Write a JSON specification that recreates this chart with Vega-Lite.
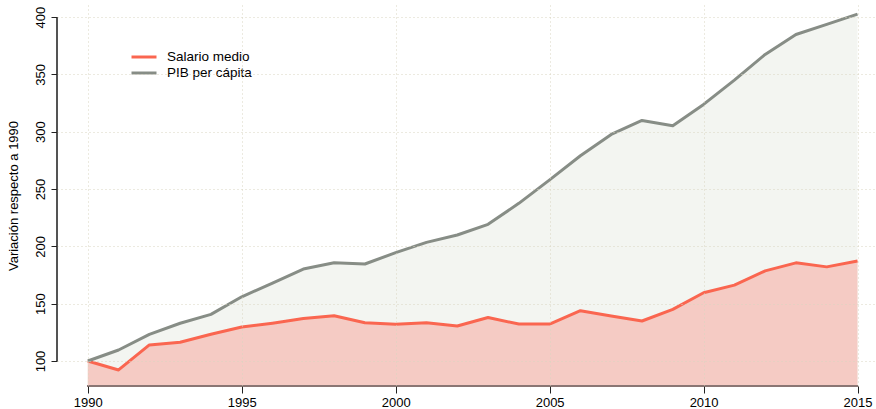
{
  "$schema": "https://vega.github.io/schema/vega-lite/v6.json",
  "width": 819,
  "height": 381,
  "autosize": "none",
  "padding": {"left": 57, "top": 5, "right": 0, "bottom": 23},
  "background": "white",
  "config": {"font": "Liberation Sans", "view": {"stroke": null}},
  "datasets": {
    "series": [
      {"year": 1990, "serie": "Salario medio", "value": 100},
      {"year": 1991, "serie": "Salario medio", "value": 92.2},
      {"year": 1992, "serie": "Salario medio", "value": 114},
      {"year": 1993, "serie": "Salario medio", "value": 116.3},
      {"year": 1994, "serie": "Salario medio", "value": 123.3},
      {"year": 1995, "serie": "Salario medio", "value": 129.6},
      {"year": 1996, "serie": "Salario medio", "value": 133},
      {"year": 1997, "serie": "Salario medio", "value": 137},
      {"year": 1998, "serie": "Salario medio", "value": 139.5},
      {"year": 1999, "serie": "Salario medio", "value": 133.4},
      {"year": 2000, "serie": "Salario medio", "value": 132},
      {"year": 2001, "serie": "Salario medio", "value": 133.4},
      {"year": 2002, "serie": "Salario medio", "value": 130.5},
      {"year": 2003, "serie": "Salario medio", "value": 138},
      {"year": 2004, "serie": "Salario medio", "value": 132.2},
      {"year": 2005, "serie": "Salario medio", "value": 132.2},
      {"year": 2006, "serie": "Salario medio", "value": 143.9},
      {"year": 2007, "serie": "Salario medio", "value": 139.2},
      {"year": 2008, "serie": "Salario medio", "value": 134.9},
      {"year": 2009, "serie": "Salario medio", "value": 145},
      {"year": 2010, "serie": "Salario medio", "value": 159.5},
      {"year": 2011, "serie": "Salario medio", "value": 166.2},
      {"year": 2012, "serie": "Salario medio", "value": 178.6},
      {"year": 2013, "serie": "Salario medio", "value": 185.6},
      {"year": 2014, "serie": "Salario medio", "value": 182.1},
      {"year": 2015, "serie": "Salario medio", "value": 187.2},
      {"year": 1990, "serie": "PIB per cápita", "value": 100},
      {"year": 1991, "serie": "PIB per cápita", "value": 109.6},
      {"year": 1992, "serie": "PIB per cápita", "value": 123.3},
      {"year": 1993, "serie": "PIB per cápita", "value": 132.9},
      {"year": 1994, "serie": "PIB per cápita", "value": 140.7},
      {"year": 1995, "serie": "PIB per cápita", "value": 156},
      {"year": 1996, "serie": "PIB per cápita", "value": 168},
      {"year": 1997, "serie": "PIB per cápita", "value": 180.2},
      {"year": 1998, "serie": "PIB per cápita", "value": 185.7},
      {"year": 1999, "serie": "PIB per cápita", "value": 184.6},
      {"year": 2000, "serie": "PIB per cápita", "value": 194.5},
      {"year": 2001, "serie": "PIB per cápita", "value": 203.5},
      {"year": 2002, "serie": "PIB per cápita", "value": 209.9},
      {"year": 2003, "serie": "PIB per cápita", "value": 219.2},
      {"year": 2004, "serie": "PIB per cápita", "value": 237.5},
      {"year": 2005, "serie": "PIB per cápita", "value": 258},
      {"year": 2006, "serie": "PIB per cápita", "value": 279},
      {"year": 2007, "serie": "PIB per cápita", "value": 297.6},
      {"year": 2008, "serie": "PIB per cápita", "value": 309.8},
      {"year": 2009, "serie": "PIB per cápita", "value": 305.2},
      {"year": 2010, "serie": "PIB per cápita", "value": 323.8},
      {"year": 2011, "serie": "PIB per cápita", "value": 345},
      {"year": 2012, "serie": "PIB per cápita", "value": 367.4},
      {"year": 2013, "serie": "PIB per cápita", "value": 384.8},
      {"year": 2014, "serie": "PIB per cápita", "value": 393.6},
      {"year": 2015, "serie": "PIB per cápita", "value": 402.5}
    ]
  },
  "data": {"name": "series"},
  "layer": [
    {
      "transform": [{"filter": "datum.serie === 'PIB per cápita'"}],
      "mark": {"type": "area", "color": "#f3f5f1", "opacity": 1},
      "encoding": {
        "x": {
          "field": "year", "type": "quantitative",
          "scale": {"domain": [1989, 2015.6], "nice": false, "zero": false},
          "axis": {
            "values": [1990, 1995, 2000, 2005, 2010, 2015],
            "format": "d",
            "title": null,
            "grid": true,
            "gridDash": [1, 3],
            "gridColor": "#d9d5c0",
            "gridWidth": 1,
            "domain": false,
            "tickColor": "#222",
            "tickSize": 7,
            "labelFontSize": 13,
            "labelColor": "#000",
            "labelPadding": 3,
            "zindex": 1
          }
        },
        "y": {
          "field": "value", "type": "quantitative",
          "scale": {"domain": [78.2, 410.5], "nice": false, "zero": false},
          "axis": {
            "values": [100, 150, 200, 250, 300, 350, 400],
            "title": "Variación respecto a 1990",
            "titleFontSize": 13,
            "titleFontWeight": "normal",
            "titleColor": "#000",
            "titlePadding": 14,
            "grid": true,
            "gridDash": [1, 3],
            "gridColor": "#d9d5c0",
            "gridWidth": 1,
            "domain": false,
            "tickColor": "#222",
            "tickSize": 6,
            "labelFontSize": 13,
            "labelColor": "#000",
            "labelAngle": -90,
            "labelAlign": "center",
            "labelBaseline": "bottom",
            "labelPadding": 4,
            "zindex": 1
          }
        },
        "y2": {"datum": 78.2}
      }
    },
    {
      "transform": [{"filter": "datum.serie === 'Salario medio'"}],
      "mark": {"type": "area", "color": "#f5cbc4", "opacity": 1},
      "encoding": {
        "x": {"field": "year", "type": "quantitative"},
        "y": {"field": "value", "type": "quantitative"},
        "y2": {"datum": 78.2}
      }
    },
    {
      "mark": {"type": "rule", "color": "#555", "strokeWidth": 1},
      "encoding": {
        "x": {"datum": 1989, "type": "quantitative"},
        "y": {"datum": 100, "type": "quantitative"},
        "y2": {"datum": 400}
      }
    },
    {
      "mark": {"type": "rule", "color": "#8a7674", "strokeWidth": 1},
      "encoding": {
        "y": {"datum": 78.2, "type": "quantitative"},
        "x": {"datum": 1990, "type": "quantitative"},
        "x2": {"datum": 2015}
      }
    },
    {
      "mark": {"type": "line", "strokeWidth": 3, "strokeJoin": "round"},
      "encoding": {
        "x": {"field": "year", "type": "quantitative"},
        "y": {"field": "value", "type": "quantitative"},
        "color": {
          "field": "serie", "type": "nominal",
          "scale": {"domain": ["Salario medio", "PIB per cápita"], "range": ["#fa6650", "#878d86"]},
          "legend": {
            "title": null,
            "orient": "none",
            "legendX": 79,
            "legendY": 44,
            "padding": 0,
            "symbolType": "M-2,0H2",
            "symbolSize": 156.25,
            "symbolStrokeWidth": 3,
            "rowPadding": 1,
            "labelFontSize": 13.5,
            "labelColor": "#000",
            "labelOffset": 15
          }
        }
      }
    }
  ]
}
